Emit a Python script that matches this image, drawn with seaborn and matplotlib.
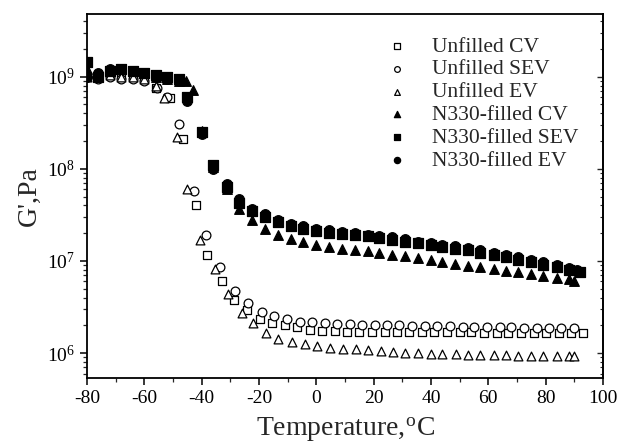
import numpy as np
import pandas as pd
import matplotlib
matplotlib.use("Agg")
import matplotlib.pyplot as plt
import matplotlib.ticker as mticker
import seaborn as sns

# temperatures (deg C) and storage modulus G' (Pa)
t_unf_cv = [-80, -76, -72, -68, -64, -60, -56, -51, -46.5, -42, -38, -33, -28.7, -24.2, -19.7,
            -15.3, -11, -6.8, -2.2, 2, 6.5, 10.7, 15, 19.4, 24, 28, 32.3, 36.8, 41, 45.5,
            50, 54, 58.5, 63, 67, 71.5, 76, 80, 84.5, 89, 93]
g_unf_cv = [1.0e9, 1.05e9, 1.05e9, 1.05e9, 1.0e9, 9.5e8, 7.5e8, 5.9e8, 2.1e8, 4.0e7, 1.15e7, 6.0e6, 3.8e6, 2.9e6, 2.35e6,
            2.1e6, 2.0e6, 1.9e6, 1.8e6, 1.75e6, 1.72e6, 1.7e6, 1.7e6, 1.7e6, 1.7e6, 1.7e6, 1.7e6, 1.68e6, 1.68e6, 1.68e6,
            1.68e6, 1.68e6, 1.67e6, 1.67e6, 1.67e6, 1.67e6, 1.66e6, 1.66e6, 1.66e6, 1.65e6, 1.65e6]

t_unf_sev = [-80, -76, -72, -68, -64, -60, -55.6, -52, -48, -42.7, -38.5, -33.6, -28.4, -24, -19,
             -14.6, -10.2, -5.7, -1.5, 3, 7.2, 11.7, 16, 20.5, 24.6, 29, 33.4, 38, 42, 46.6,
             51, 55, 59.5, 64, 68, 72.5, 77, 81, 85.5, 90]
g_unf_sev = [1.0e9, 9.5e8, 1.0e9, 9.5e8, 9.5e8, 9.0e8, 7.6e8, 6.0e8, 3.1e8, 5.7e7, 1.9e7, 8.6e6, 4.7e6, 3.5e6, 2.8e6,
             2.55e6, 2.35e6, 2.2e6, 2.15e6, 2.1e6, 2.08e6, 2.05e6, 2.03e6, 2.02e6, 2.0e6, 2.0e6, 1.98e6, 1.97e6, 1.96e6, 1.95e6,
             1.94e6, 1.93e6, 1.92e6, 1.91e6, 1.9e6, 1.89e6, 1.88e6, 1.87e6, 1.86e6, 1.85e6]

t_unf_ev = [-80, -76, -72, -68, -64, -60, -56, -53, -48.6, -45, -40.6, -35.4, -30.8, -26, -22,
            -17.6, -13.4, -8.5, -4, 0.2, 4.8, 9.3, 13.8, 18, 22.5, 26.7, 31, 35.5, 40, 44,
            48.7, 53, 57, 62, 66, 70.5, 75, 79, 84, 88, 90]
g_unf_ev = [1.0e9, 1.0e9, 1.05e9, 1.0e9, 1.0e9, 9.5e8, 8.0e8, 5.8e8, 2.2e8, 6.0e7, 1.7e7, 8.1e6, 4.4e6, 2.75e6, 2.1e6,
            1.66e6, 1.44e6, 1.33e6, 1.25e6, 1.2e6, 1.15e6, 1.12e6, 1.1e6, 1.07e6, 1.05e6, 1.03e6, 1.01e6, 1.0e6, 9.9e5, 9.8e5,
            9.7e5, 9.6e5, 9.6e5, 9.5e5, 9.5e5, 9.4e5, 9.4e5, 9.4e5, 9.3e5, 9.3e5, 9.3e5]

t_n330_cv = [-80, -76, -72, -68, -64, -60, -56, -52, -48, -45.5, -43, -40, -36, -31, -27, -22.5,
             -18, -13.5, -9, -4.5, 0, 4.5, 9, 13.5, 18, 22, 26.5, 31, 35.5, 40, 44,
             48.5, 53, 57, 62, 66, 70.5, 75, 79, 84, 88, 90]
g_n330_cv = [1.2e9, 1.05e9, 1.15e9, 1.2e9, 1.15e9, 1.1e9, 1.0e9, 9.5e8, 9.0e8, 9.0e8, 7.2e8, 2.6e8, 1.05e8, 6.0e7, 3.7e7, 2.8e7,
             2.2e7, 1.9e7, 1.75e7, 1.6e7, 1.5e7, 1.4e7, 1.35e7, 1.3e7, 1.27e7, 1.22e7, 1.17e7, 1.12e7, 1.08e7, 1.03e7, 9.8e6,
             9.3e6, 8.9e6, 8.5e6, 8.1e6, 7.8e6, 7.5e6, 7.2e6, 6.9e6, 6.6e6, 6.3e6, 6.0e6]

t_n330_sev = [-80, -76, -72, -68, -64, -60, -56, -52, -48, -45, -40, -36, -31, -27, -22.5,
              -18, -13.5, -9, -4.5, 0, 4.5, 9, 13.5, 18, 22, 26.5, 31, 35.5, 40, 44,
              48.5, 53, 57, 62, 66, 70.5, 75, 79, 84, 88, 92]
g_n330_sev = [1.45e9, 1.0e9, 1.15e9, 1.2e9, 1.15e9, 1.1e9, 1.05e9, 1.0e9, 9.5e8, 6.0e8, 2.5e8, 1.1e8, 6.3e7, 4.3e7, 3.5e7,
              3.0e7, 2.65e7, 2.4e7, 2.25e7, 2.1e7, 2.0e7, 1.95e7, 1.9e7, 1.85e7, 1.78e7, 1.7e7, 1.62e7, 1.55e7, 1.48e7, 1.42e7,
              1.36e7, 1.3e7, 1.23e7, 1.15e7, 1.1e7, 1.03e7, 9.7e6, 9.0e6, 8.5e6, 8.0e6, 7.5e6]

t_n330_ev = [-80, -76, -72, -68, -64, -60, -56, -52, -48, -45, -40, -36, -31, -27, -22.5,
             -18, -13.5, -9, -4.5, 0, 4.5, 9, 13.5, 18, 22, 26.5, 31, 35.5, 40, 44,
             48.5, 53, 57, 62, 66, 70.5, 75, 79, 84, 88, 91]
g_n330_ev = [1.0e9, 1.1e9, 1.2e9, 1.2e9, 1.15e9, 1.1e9, 1.0e9, 9.5e8, 9.0e8, 5.5e8, 2.4e8, 1.0e8, 6.8e7, 4.7e7, 3.7e7,
             3.2e7, 2.8e7, 2.55e7, 2.4e7, 2.25e7, 2.15e7, 2.05e7, 2.0e7, 1.93e7, 1.87e7, 1.8e7, 1.72e7, 1.62e7, 1.55e7, 1.5e7,
             1.45e7, 1.38e7, 1.3e7, 1.22e7, 1.17e7, 1.1e7, 1.03e7, 9.7e6, 9.0e6, 8.3e6, 8.0e6]

series = [
    ("Unfilled CV", t_unf_cv, g_unf_cv, "s", False),
    ("Unfilled SEV", t_unf_sev, g_unf_sev, "o", False),
    ("Unfilled EV", t_unf_ev, g_unf_ev, "^", False),
    ("N330-filled CV", t_n330_cv, g_n330_cv, "^", True),
    ("N330-filled SEV", t_n330_sev, g_n330_sev, "s", True),
    ("N330-filled EV", t_n330_ev, g_n330_ev, "o", True),
]

sns.set_style("ticks")
plt.rcParams["font.family"] = ["Liberation Serif", "DejaVu Serif"]
plt.rcParams["mathtext.fontset"] = "stix"
plt.rcParams["axes.unicode_minus"] = False

fig = plt.figure(figsize=(6.18, 4.45), dpi=100)
ax = fig.add_axes([0.1408, 0.1506, 0.8349, 0.8179])

for name, t, g, mk, filled in series:
    df = pd.DataFrame({"T": t, "G": g})
    sns.scatterplot(data=df, x="T", y="G", ax=ax, marker=mk, s=48 if filled else 40,
                    facecolor="black" if filled else "white", edgecolor="black",
                    linewidth=0.9, label=name, zorder=3 if filled else 2)

ax.set_yscale("log")
ax.set_xlim(-80, 100)
ax.set_ylim(10 ** 5.73, 10 ** 9.68)
ax.xaxis.set_major_locator(mticker.MultipleLocator(20))
ax.xaxis.set_minor_locator(mticker.MultipleLocator(10))
ax.yaxis.set_major_locator(mticker.LogLocator(base=10, numticks=10))
ax.yaxis.set_minor_locator(mticker.LogLocator(base=10, subs=np.arange(2, 10), numticks=10))
ax.yaxis.set_minor_formatter(mticker.NullFormatter())

for s in ax.spines.values():
    s.set_linewidth(1.3)
    s.set_color("black")
ax.tick_params(axis="both", which="major", length=5, width=1.1, labelsize=14, colors="black")
ax.tick_params(axis="both", which="minor", length=3, width=0.9)

# inward ticks on the right spine, no labels
sec = ax.secondary_yaxis("right")
sec.yaxis.set_major_locator(mticker.LogLocator(base=10, numticks=10))
sec.yaxis.set_minor_locator(mticker.LogLocator(base=10, subs=np.arange(2, 10), numticks=10))
sec.tick_params(which="both", direction="in", labelright=False)
sec.tick_params(which="major", length=4, width=1.0)
sec.tick_params(which="minor", length=2.5, width=0.8)
sec.spines["right"].set_linewidth(1.3)

ax.set_xlabel("Temperature,$^\\mathregular{o}$C", fontsize=20, labelpad=6)
ax.set_ylabel("G',Pa", fontsize=20, labelpad=4)

leg = ax.legend(loc="upper left", bbox_to_anchor=(0.56, 0.962), frameon=False,
                fontsize=15.5, markerscale=0.65, handlelength=1.2, handletextpad=1.0,
                labelspacing=0.13, borderaxespad=0)

fig.savefig("out.png", dpi=100)
